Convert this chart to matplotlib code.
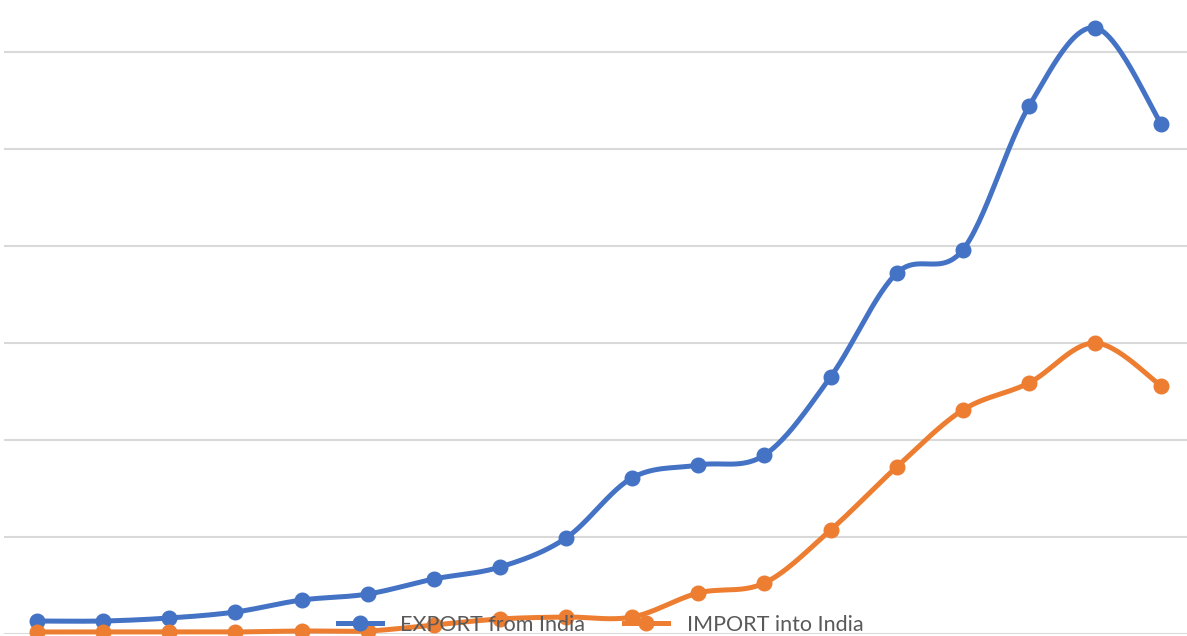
import numpy as np
from matplotlib import pyplot as plt

# data (one gridline step = 5000)
years = list(range(18))
export_india = [670, 670, 825, 1135, 1750, 2060, 2835, 3450, 4950, 8050,
                8710, 9225, 13250, 18600, 19800, 27200, 31250, 26300]
import_india = [105, 105, 105, 105, 155, 155, 465, 775, 875, 875,
                2115, 2630, 5360, 8610, 11545, 12940, 15000, 12785]


def smooth(x, y, n=30):
    # excel-like smoothing (catmull-rom through the points)
    x = np.asarray(x, float)
    y = np.asarray(y, float)
    px = np.concatenate([[x[0]], x, [x[-1]]])
    py = np.concatenate([[y[0]], y, [y[-1]]])
    xs, ys = [], []
    t = np.linspace(0, 1, n)
    for i in range(1, len(px) - 2):
        for p, out in ((px, xs), (py, ys)):
            p0, p1, p2, p3 = p[i - 1], p[i], p[i + 1], p[i + 2]
            c1 = p1 + (p2 - p0) / 6
            c2 = p2 - (p3 - p1) / 6
            out.extend((1 - t) ** 3 * p1 + 3 * (1 - t) ** 2 * t * c1
                       + 3 * (1 - t) * t ** 2 * c2 + t ** 3 * p2)
    return xs, ys


fig = plt.figure(figsize=(11.87, 6.36), dpi=100)
ax = fig.add_axes([4 / 1187, 2 / 636, 1183 / 1187, 634 / 636])

blue = "#4472C4"
orange = "#ED7D31"

for vals, col, name in ((export_india, blue, "EXPORT from India"),
                        (import_india, orange, "IMPORT into India")):
    sx, sy = smooth(years, vals)
    ax.plot(sx, sy, color=col, lw=3.6, solid_capstyle="round", clip_on=False, zorder=3)
    ax.plot(years, vals, "o", color=col, ms=10.5, clip_on=False, zorder=4)
    ax.plot([], [], "-o", color=col, lw=3.6, ms=10.5, label=name)

ax.set_xlim(-0.5, 17.39)
ax.set_ylim(0, 6.536 * 5000)
ax.set_yticks(np.arange(0, 35000, 5000))
ax.yaxis.grid(True, color="#D9D9D9", lw=1.5)
ax.set_axisbelow(True)
ax.tick_params(left=False, bottom=False, labelleft=False, labelbottom=False)
for s in ax.spines.values():
    s.set_visible(False)

fig.legend(loc="center", bbox_to_anchor=(0.506, 0.018), ncol=2, frameon=False,
           prop={"family": "Lato", "size": 15.5}, labelcolor="#595959",
           handlelength=2.05, handletextpad=0.85, columnspacing=1.8)

fig.savefig("out.png", dpi=100)
